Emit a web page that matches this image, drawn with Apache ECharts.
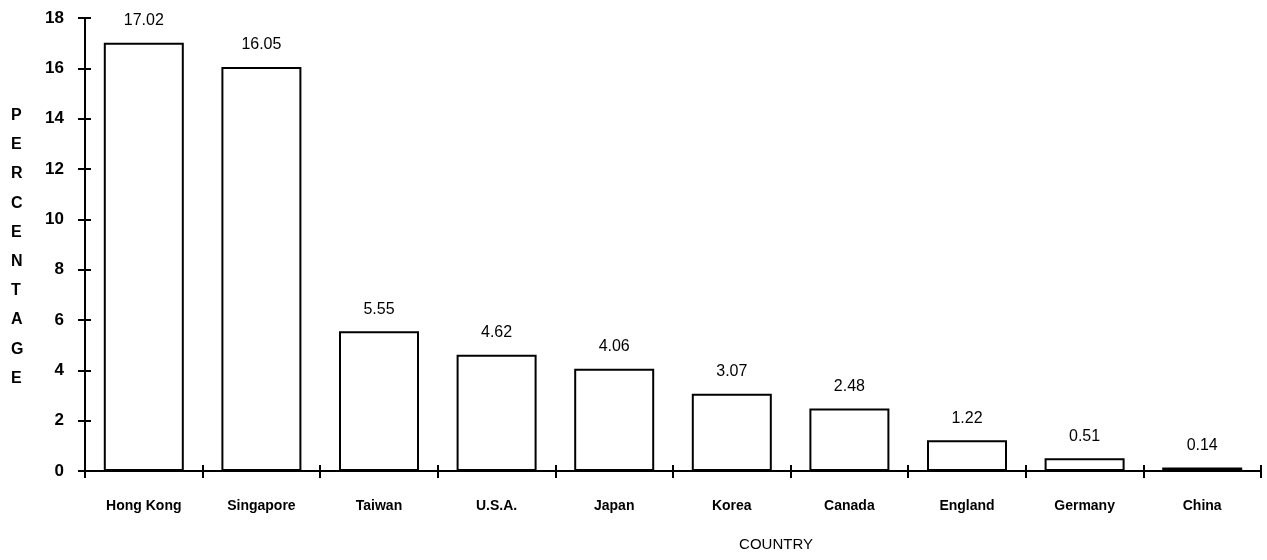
<!DOCTYPE html>
<html>
<head>
<meta charset="utf-8">
<title>Percentage by country</title>
<script src="https://cdn.jsdelivr.net/npm/echarts@6/dist/echarts.min.js"></script>
<style>
  html, body { margin: 0; padding: 0; background: #fff; }
  #chart { width: 1267px; height: 560px; }
</style>
</head>
<body>
<div id="chart"></div>
<script>
var countries = ['Hong Kong', 'Singapore', 'Taiwan', 'U.S.A.', 'Japan', 'Korea', 'Canada', 'England', 'Germany', 'China'];
var percentages = [17.02, 16.05, 5.55, 4.62, 4.06, 3.07, 2.48, 1.22, 0.51, 0.14];
var yTitle = 'PERCENTAGE';

var font = 'Liberation Sans, Arial, sans-serif';
var myChart = echarts.init(document.getElementById('chart'));

var axisLine = { show: true, lineStyle: { color: '#000', width: 2 } };
var tick = { show: true, length: 6, lineStyle: { color: '#000', width: 2 } };
// plot size, used to slide the second axes back onto the first ones
var plotW = 1267 - 85 - 6;
var plotH = 560 - 18 - 89;

option = {
    backgroundColor: '#fff',
    animation: false,
    grid: { left: 85, right: 6, top: 18, bottom: 89 },
    xAxis: [{
        type: 'category',
        data: countries,
        axisLine: axisLine,
        axisTick: { show: true, length: 7, lineStyle: { color: '#000', width: 2 } },
        axisLabel: { color: '#000', fontFamily: font, fontSize: 14, fontWeight: 'bold', margin: 28 },
        name: 'COUNTRY',
        nameLocation: 'middle',
        nameGap: 66,
        nameTextStyle: { color: '#000', fontFamily: font, fontSize: 15, padding: [0, 0, 0, 206] }
    }, {
        // upward half of the crossing ticks
        type: 'category',
        data: countries,
        position: 'top',
        offset: -plotH,
        axisLine: { show: false },
        axisTick: tick,
        axisLabel: { show: false }
    }],
    yAxis: [{
        type: 'value',
        min: 0,
        max: 18,
        interval: 2,
        splitLine: { show: false },
        axisLine: axisLine,
        axisTick: { show: true, length: 7, lineStyle: { color: '#000', width: 2 } },
        axisLabel: { color: '#000', fontFamily: font, fontSize: 17, fontWeight: 'bold', margin: 21 }
    }, {
        // rightward half of the crossing ticks
        type: 'value',
        min: 0,
        max: 18,
        interval: 2,
        position: 'right',
        offset: -plotW,
        splitLine: { show: false },
        axisLine: { show: false },
        axisTick: tick,
        axisLabel: { show: false }
    }],
    graphic: [{
        type: 'text',
        left: 11,
        top: 101,
        style: {
            text: yTitle.split('').join('\n'),
            font: 'bold 16px ' + font,
            fill: '#000',
            lineHeight: 29.2,
            align: 'center'
        }
    }],
    series: [{
        type: 'bar',
        data: percentages,
        barWidth: 80,
        itemStyle: { color: '#fff', borderColor: '#000', borderWidth: 2 },
        label: {
            show: true,
            position: 'top',
            distance: 14,
            color: '#000',
            fontFamily: font,
            fontSize: 16,
            formatter: function (p) { return p.value.toFixed(2); }
        }
    }, {
        // invisible, only keeps the tick-only axes alive
        type: 'line',
        xAxisIndex: 1,
        yAxisIndex: 1,
        data: percentages,
        silent: true,
        showSymbol: false,
        lineStyle: { opacity: 0 }
    }]
};
myChart.setOption(option);
</script>
</body>
</html>
